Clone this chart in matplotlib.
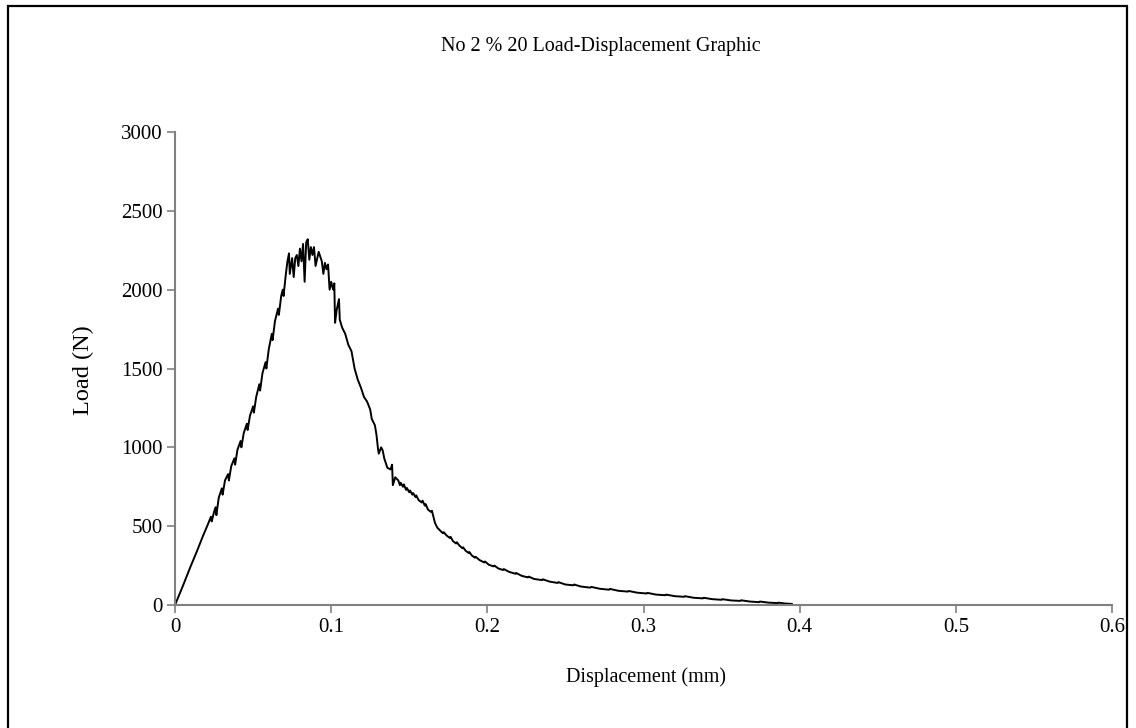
import matplotlib.pyplot as plt
from matplotlib.patches import Rectangle

plt.rcParams['font.family'] = ['Liberation Serif', 'DejaVu Serif']

title = 'No 2 % 20 Load-Displacement Graphic'
xlabel = 'Displacement (mm)'
ylabel = 'Load (N)'
xticks = [0, 0.1, 0.2, 0.3, 0.4, 0.5, 0.6]
xticklabels = ['0', '0.1', '0.2', '0.3', '0.4', '0.5', '0.6']
yticks = [0, 500, 1000, 1500, 2000, 2500, 3000]

# rising branch up to the peak
disp_rise = [0, 0.005, 0.010, 0.014, 0.018, 0.021, 0.023, 0.0235, 0.025, 0.026,
             0.0265, 0.028, 0.030, 0.0305, 0.032, 0.034, 0.0345, 0.036, 0.038, 0.0385,
             0.040, 0.042, 0.0425, 0.044, 0.046, 0.0465, 0.048, 0.050, 0.0505, 0.052,
             0.054, 0.0545, 0.056, 0.058, 0.0585, 0.060, 0.062, 0.0625, 0.064, 0.066,
             0.0665, 0.068, 0.069, 0.0695, 0.071, 0.072, 0.073, 0.0735, 0.075, 0.076,
             0.077, 0.078, 0.079, 0.080, 0.081, 0.082, 0.083, 0.084, 0.085]
load_rise = [0, 120, 245, 340, 440, 510, 560, 530, 590, 620,
             570, 680, 740, 700, 790, 830, 790, 880, 930, 890,
             985, 1040, 1000, 1090, 1150, 1110, 1200, 1260, 1220, 1320,
             1400, 1360, 1470, 1540, 1500, 1620, 1720, 1680, 1800, 1880,
             1840, 1960, 2000, 1960, 2100, 2180, 2230, 2100, 2200, 2080,
             2200, 2220, 2150, 2260, 2180, 2290, 2050, 2300, 2320]

# post-peak softening
disp_fall = [0.086, 0.087, 0.088, 0.089, 0.090, 0.092, 0.094, 0.095, 0.096, 0.097,
             0.098, 0.099, 0.100, 0.101, 0.1015, 0.102, 0.1025, 0.1035, 0.105, 0.1055,
             0.107, 0.109, 0.111, 0.113, 0.115, 0.117, 0.119, 0.121, 0.123, 0.125,
             0.126, 0.128, 0.129, 0.130, 0.1305, 0.132, 0.133, 0.134, 0.136, 0.138,
             0.139, 0.1395, 0.141, 0.143, 0.144, 0.1445, 0.146, 0.1465, 0.148, 0.1485,
             0.150, 0.1505, 0.152, 0.1525, 0.154, 0.1545, 0.156, 0.158, 0.1585, 0.160,
             0.1605, 0.162, 0.164, 0.1645, 0.1655, 0.1665, 0.168]
load_fall = [2190, 2270, 2220, 2270, 2150, 2240, 2180, 2100, 2170, 2130,
             2160, 2000, 2050, 2010, 2000, 2040, 1790, 1870, 1940, 1810,
             1760, 1720, 1650, 1610, 1500, 1430, 1380, 1320, 1290, 1240,
             1180, 1140, 1080, 990, 960, 1000, 980, 930, 870, 860,
             890, 760, 810, 790, 760, 775, 750, 765, 730, 742,
             715, 726, 700, 710, 685, 695, 665, 650, 662, 630,
             640, 605, 590, 598, 560, 520, 490]

# long tail towards failure
disp_tail = [0.170, 0.1715, 0.172, 0.174, 0.176, 0.1765, 0.178, 0.180, 0.1805, 0.182,
             0.184, 0.1845, 0.186, 0.188, 0.1885, 0.190, 0.192, 0.1925, 0.195, 0.198,
             0.1985, 0.201, 0.204, 0.2045, 0.207, 0.210, 0.2105, 0.214, 0.218, 0.2185,
             0.222, 0.226, 0.2265, 0.230, 0.235, 0.2355, 0.240, 0.245, 0.2455, 0.250,
             0.255, 0.2555, 0.260, 0.266, 0.2665, 0.272, 0.278, 0.2785, 0.284, 0.290,
             0.2905, 0.296, 0.302, 0.3025, 0.308, 0.314, 0.3145, 0.320, 0.326, 0.3265,
             0.332, 0.338, 0.3385, 0.344, 0.350, 0.3505, 0.356, 0.362, 0.3625, 0.368,
             0.374, 0.3745, 0.380, 0.386, 0.3865, 0.391, 0.395]
load_tail = [470, 455, 462, 440, 425, 432, 405, 390, 398, 378,
             360, 366, 345, 330, 336, 315, 300, 306, 285, 270,
             276, 255, 245, 250, 232, 222, 228, 210, 198, 203,
             185, 175, 180, 165, 158, 163, 148, 140, 145, 130,
             125, 130, 117, 110, 115, 103, 97, 102, 90, 85,
             89, 78, 73, 77, 66, 62, 66, 56, 52, 56,
             46, 42, 46, 37, 33, 37, 29, 26, 30, 22,
             18, 22, 15, 12, 15, 9, 7]

disp = disp_rise + disp_fall + disp_tail
load = load_rise + load_fall + load_tail

fig = plt.figure(figsize=(11.36, 7.28), dpi=100)
ax = fig.add_axes([175 / 1136, 1 - 605 / 728, 937 / 1136, 473 / 728])

ax.plot(disp, load, color='black', lw=1.4)

ax.set_xlim(0, 0.6)
ax.set_ylim(0, 3000)
ax.set_xticks(xticks)
ax.set_xticklabels(xticklabels)
ax.set_yticks(yticks)
for s in ['top', 'right']:
    ax.spines[s].set_visible(False)
for s in ['left', 'bottom']:
    ax.spines[s].set_color('#808080')
    ax.spines[s].set_linewidth(1.5)
ax.tick_params(axis='both', direction='out', length=6, width=1.2, color='#808080',
               labelsize=15)
ax.tick_params(axis='x', pad=3)
ax.tick_params(axis='y', pad=3)

fig.text(601 / 1136, 1 - 47 / 728, title, ha='center', va='center', fontsize=14.5)
fig.text(646 / 1136, 1 - 677 / 728, xlabel, ha='center', va='center', fontsize=14.5)
fig.text(83 / 1136, 1 - 370 / 728, ylabel, ha='center', va='center', fontsize=17.5,
         rotation=90)

# outer chart frame
fig.patches.append(Rectangle((8 / 1136, -0.02), 1119 / 1136, 1.02 - 6 / 728,
                             transform=fig.transFigure, fill=False,
                             edgecolor='black', lw=1.6))

fig.savefig('out.png', dpi=100)
